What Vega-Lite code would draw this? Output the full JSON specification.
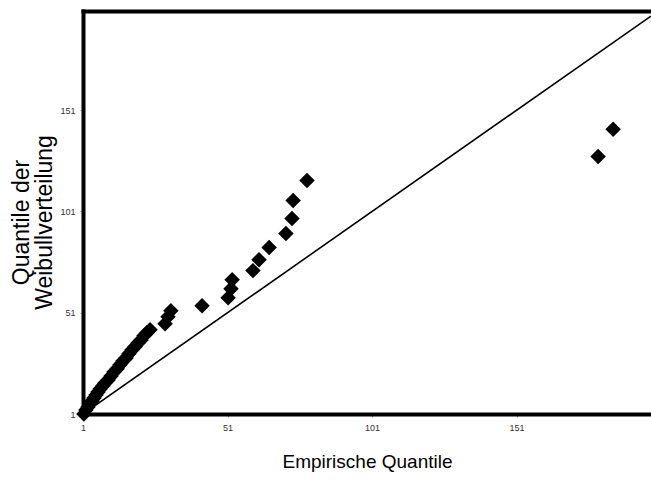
{
  "$schema": "https://vega.github.io/schema/vega-lite/v6.json",
  "autosize": {"type": "none"},
  "padding": {"left": 83, "top": 11, "right": 0, "bottom": 65},
  "width": 568,
  "height": 403,
  "background": "white",
  "config": {"view": {"stroke": null}, "font": "Liberation Sans"},
  "datasets": {
    "pts": [
      {"emp": 1.3, "weib": 1.0}, {"emp": 2.0, "weib": 3.0}, {"emp": 2.7, "weib": 4.5}, {"emp": 3.4, "weib": 6.0},
      {"emp": 4.1, "weib": 7.4}, {"emp": 4.8, "weib": 8.9}, {"emp": 5.5, "weib": 10.4}, {"emp": 6.2, "weib": 11.9},
      {"emp": 6.9, "weib": 13.4}, {"emp": 7.9, "weib": 14.9}, {"emp": 8.6, "weib": 16.3}, {"emp": 9.7, "weib": 17.8},
      {"emp": 10.7, "weib": 19.8}, {"emp": 11.7, "weib": 21.8}, {"emp": 12.8, "weib": 23.3}, {"emp": 13.8, "weib": 25.3},
      {"emp": 14.8, "weib": 27.2}, {"emp": 15.9, "weib": 28.7}, {"emp": 16.9, "weib": 30.7}, {"emp": 18.0, "weib": 32.7},
      {"emp": 19.0, "weib": 34.2}, {"emp": 20.0, "weib": 36.1}, {"emp": 21.1, "weib": 37.6}, {"emp": 22.1, "weib": 39.6},
      {"emp": 23.1, "weib": 41.1}, {"emp": 24.2, "weib": 42.6}, {"emp": 29.4, "weib": 45.6}, {"emp": 30.4, "weib": 49.0},
      {"emp": 31.4, "weib": 52.0}, {"emp": 42.2, "weib": 54.5}, {"emp": 51.2, "weib": 58.4}, {"emp": 52.2, "weib": 62.9},
      {"emp": 52.6, "weib": 67.3}, {"emp": 59.8, "weib": 71.8}, {"emp": 61.9, "weib": 77.2}, {"emp": 65.4, "weib": 83.2},
      {"emp": 71.2, "weib": 90.1}, {"emp": 73.3, "weib": 97.5}, {"emp": 73.7, "weib": 106.4}, {"emp": 78.5, "weib": 116.3},
      {"emp": 179.2, "weib": 128.2}, {"emp": 184.4, "weib": 141.6}
    ],
    "diag": [{"emp": 1, "weib": 1}, {"emp": 197.5, "weib": 197.5}]
  },
  "resolve": {"axis": {"x": "independent"}},
  "layer": [
    {
      "data": {"name": "diag"},
      "mark": {"type": "line", "color": "black", "strokeWidth": 1.6, "clip": true},
      "encoding": {
        "x": {
          "field": "emp", "type": "quantitative",
          "scale": {"domain": [1, 197.5], "nice": false, "zero": false},
          "axis": {
            "orient": "bottom", "values": [1, 51, 101, 151], "title": "Empirische Quantile",
            "domainWidth": 4, "domainColor": "black", "domainCap": "square",
            "tickSize": 3, "tickColor": "#999999", "tickWidth": 1,
            "labelFontSize": 9, "labelColor": "#333333", "labelFlush": false, "labelPadding": 6,
            "titleFontSize": 19, "titleFontWeight": "normal", "titleColor": "black", "titlePadding": 20,
            "grid": false
          }
        },
        "y": {
          "field": "weib", "type": "quantitative",
          "scale": {"domain": [1, 200], "nice": false, "zero": false},
          "axis": {
            "orient": "left", "values": [1, 51, 101, 151],
            "title": ["Quantile der", "Weibullverteilung"],
            "domainWidth": 4, "domainColor": "black", "domainCap": "square",
            "tickSize": 3, "tickColor": "#999999", "tickWidth": 1,
            "labelFontSize": 9, "labelColor": "#333333", "labelFlush": false, "labelPadding": 5,
            "titleFontSize": 23, "titleFontWeight": "normal", "titleColor": "black",
            "titleLineHeight": 23, "titlePadding": 3, "titleY": 211,
            "grid": false
          }
        }
      }
    },
    {
      "data": {"name": "pts"},
      "mark": {"type": "point", "shape": "diamond", "filled": true, "color": "black", "opacity": 1, "size": 240},
      "encoding": {
        "x": {
          "field": "emp", "type": "quantitative",
          "axis": {
            "orient": "top", "title": null, "labels": false, "ticks": false, "grid": false,
            "domainWidth": 4, "domainColor": "black", "domainCap": "square"
          }
        },
        "y": {"field": "weib", "type": "quantitative"}
      }
    }
  ]
}
